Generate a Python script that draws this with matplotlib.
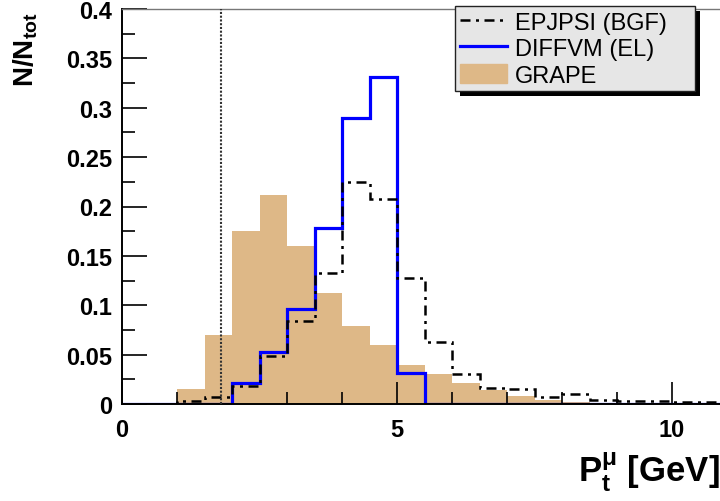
import numpy as np
import matplotlib
matplotlib.use("Agg")
import matplotlib.pyplot as plt
from matplotlib.ticker import MultipleLocator, FuncFormatter
from matplotlib.patches import Patch, Rectangle
from matplotlib.lines import Line2D

# bin edges in GeV (0.5 GeV bins)
edges = np.arange(0, 11.01, 0.5)

grape = [0, 0, 0.015, 0.070, 0.175, 0.212, 0.160, 0.112, 0.079, 0.060, 0.040,
         0.030, 0.021, 0.014, 0.008, 0.004, 0.002, 0.001, 0.001, 0.0005, 0.0005, 0.0003]
epjpsi = [0, 0, 0.003, 0.007, 0.0185, 0.049, 0.084, 0.133, 0.225, 0.208, 0.128,
          0.0625, 0.030, 0.016, 0.015, 0.0075, 0.010, 0.004, 0.003, 0.003, 0.002, 0.002]
diffvm = [0, 0, 0, 0, 0.021, 0.053, 0.096, 0.178, 0.290, 0.331, 0.031,
          0, 0, 0, 0, 0, 0, 0, 0, 0, 0, 0]
pt_cut = 1.8
labels = ["EPJPSI (BGF)", "DIFFVM (EL)", "GRAPE"]

plt.rcParams['font.family'] = ['Liberation Sans', 'DejaVu Sans']
plt.rcParams['mathtext.fontset'] = 'custom'
plt.rcParams['mathtext.rm'] = 'Liberation Sans'
plt.rcParams['mathtext.bf'] = 'Liberation Sans:bold'
plt.rcParams['mathtext.it'] = 'Liberation Sans:bold'

W, H = 720, 502
fig = plt.figure(figsize=(7.2, 5.02), dpi=100)
ax = fig.add_axes([122/W, 97/H, 1 - 122/W, 395/H])

dashdot = (0, (4, 2.2, 1.2, 2.2))
ax.stairs(grape, edges, fill=True, color="#deb887", zorder=1)
ax.stairs(diffvm, edges, color="#0000ff", lw=2.3, zorder=2)
ax.stairs(epjpsi, edges, color="black", lw=1.8, linestyle=dashdot, zorder=3)
ax.plot([pt_cut, pt_cut], [0, 0.4], color="#333333", lw=1.5, linestyle=(0, (1, 0.8)), zorder=4)

ax.set_xlim(0, 598/55)
ax.set_ylim(0, 0.4)

ax.xaxis.set_major_locator(MultipleLocator(5))
ax.xaxis.set_minor_locator(MultipleLocator(1))
ax.yaxis.set_major_locator(MultipleLocator(0.05))
ax.yaxis.set_minor_locator(MultipleLocator(0.025))
ax.yaxis.set_major_formatter(FuncFormatter(lambda v, p: "%g" % round(v, 3)))
ax.tick_params(which="both", direction="in", top=False, right=False, width=1.2)
ax.tick_params(which="major", length=18, labelsize=17, pad=7)
ax.tick_params(which="minor", length=9)
ax.tick_params(axis="x", which="major", length=16, pad=10)
ax.tick_params(axis="x", which="minor", length=9)
for lab in ax.get_xticklabels() + ax.get_yticklabels():
    lab.set_fontweight("bold")

ax.spines["right"].set_visible(False)
ax.spines["top"].set_color("#777777")
ax.spines["top"].set_linewidth(1.0)
for s in ["left", "bottom"]:
    ax.spines[s].set_linewidth(1.4)

fig.text(1.0, 1 - 483/H, r"$\mathbf{P_t^{\mu}}$ [GeV]", ha="right", va="baseline",
         fontsize=25, fontweight="bold")
fig.text(26/W, 1 - 12/H, r"$\mathbf{N/N_{tot}}$", ha="center", va="top",
         rotation=90, fontsize=20, fontweight="bold")

handles = [Line2D([], [], color="black", lw=1.8, linestyle=dashdot),
           Line2D([], [], color="#0000ff", lw=2.3),
           Patch(facecolor="#deb887", edgecolor="#deb887")]
leg = ax.legend(handles, labels, loc="upper left", mode="expand",
                bbox_to_anchor=(333/598, 0, 240/598, 1 + 3/395),
                fontsize=17, frameon=True, fancybox=False, shadow=False,
                borderpad=0.2, labelspacing=0.15, handlelength=2.0, handletextpad=0.34,
                borderaxespad=0, handleheight=0.9)
leg.get_frame().set_facecolor("#e6e6e6")
leg.get_frame().set_edgecolor("#222222")
leg.get_frame().set_linewidth(1.0)
leg.get_frame().set_alpha(1)
leg.set_zorder(10)

# ROOT-style solid black shadow behind the legend box
fig.canvas.draw()
bb = leg.get_window_extent()
shadow = Rectangle((bb.x0 + 5, bb.y0 - 5), bb.width, bb.height, transform=None,
                   facecolor="black", edgecolor="none", zorder=9)
ax.add_artist(shadow)

fig.savefig("out.png", dpi=100)
